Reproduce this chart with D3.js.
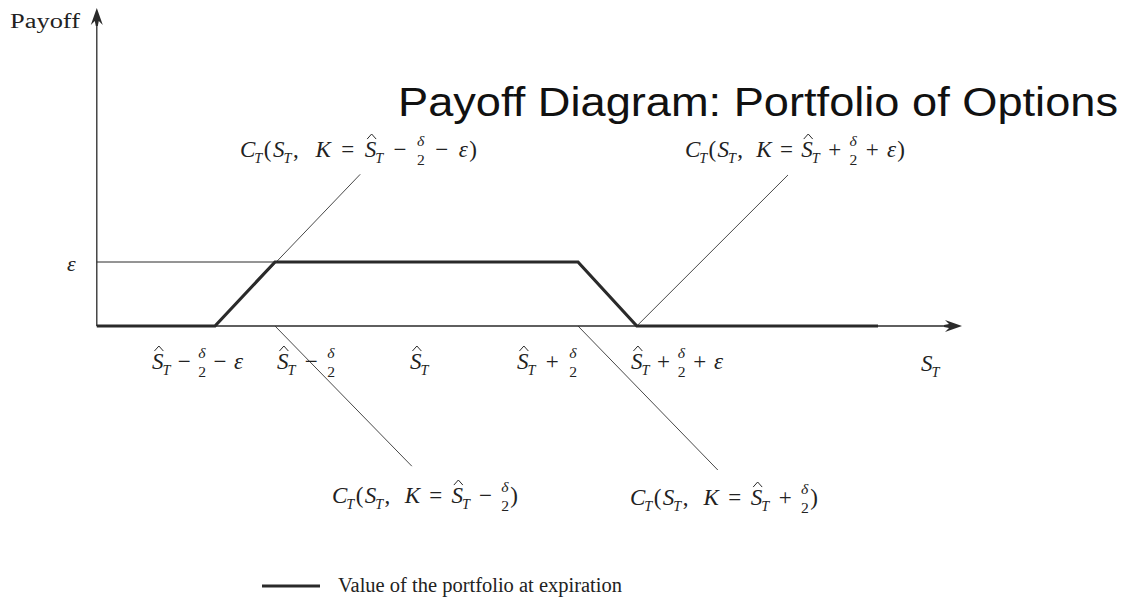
<!DOCTYPE html>
<html>
<head>
<meta charset="utf-8">
<script src="https://cdn.jsdelivr.net/npm/d3@7"></script>
<style>
  body { margin: 0; background: #fff; }
  text { font-family: "Liberation Serif", "Times New Roman", serif; fill: #222; }
</style>
</head>
<body>
<svg id="chart"></svg>
<script>
const width = 1130, height = 601;

// strike levels in units of epsilon, S-hat at 0
const strikes = [-3.5, -2.5, 0, 2.55, 3.53];
// portfolio value at expiration (thick line)
const payoffX = [-5.47, -3.5, -2.5, 2.55, 3.53, 7.55];
const payoffY = [0, 0, 1, 1, 0, 0];
// leader lines: [x0, y0, x1, y1] in data units
const leaders = [
  [-3.5, 0, -1.08, 2.37],
  [3.53, 0, 6.05, 2.36],
  [-2.5, 0, -0.22, -2.19],
  [2.55, 0, 4.88, -2.25]
];
// math tokens: H = S-hat_T, S = S_T, C = C_T, F = delta/2, e = epsilon
const tickLabels = [
  ['H', '-', 'F', '-', 'e'],
  ['H', '-', 'F'],
  ['H'],
  ['H', '+', 'F'],
  ['H', '+', 'F', '+', 'e']
];
const callLabels = [
  ['C', '(', 'S', ',', 'K', '=', 'H', '-', 'F', '-', 'e', ')'],
  ['C', '(', 'S', ',', 'K', '=', 'H', '+', 'F', '+', 'e', ')'],
  ['C', '(', 'S', ',', 'K', '=', 'H', '-', 'F', ')'],
  ['C', '(', 'S', ',', 'K', '=', 'H', '+', 'F', ')']
];

const x = d3.scaleLinear().domain([-5.5, 9]).range([95, 965]);
const y = d3.scaleLinear().domain([0, 1]).range([326, 262]);

const svg = d3.select('#chart')
  .attr('width', width)
  .attr('height', height)
  .attr('viewBox', [0, 0, width, height]);

const ink = '#2a2a2a';

// arrow heads
function arrow(px, py, angle) {
  svg.append('path')
    .attr('d', 'M0,0 L-17,-6 L-13,-2 L-18,-1 L-18,1 L-13,2 L-17,6 Z')
    .attr('transform', `translate(${px},${py}) rotate(${angle})`)
    .attr('fill', ink);
}

/** AXES **/
svg.append('line')
  .attr('x1', x(-5.47)).attr('x2', x(8.9))
  .attr('y1', y(0)).attr('y2', y(0))
  .attr('stroke', ink).attr('stroke-width', 1.3);
arrow(x(8.95), y(0), 0);

svg.append('line')
  .attr('x1', x(-5.47)).attr('x2', x(-5.47))
  .attr('y1', y(0)).attr('y2', y(4.85))
  .attr('stroke', ink).attr('stroke-width', 1.3);
arrow(x(-5.47), y(4.97), -90);

// epsilon level
svg.append('line')
  .attr('x1', x(-5.47)).attr('x2', x(strikes[1]))
  .attr('y1', y(1)).attr('y2', y(1))
  .attr('stroke', ink).attr('stroke-width', 1);

// leader lines
svg.append('g').selectAll('line')
  .data(leaders)
  .join('line')
  .attr('x1', d => x(d[0])).attr('y1', d => y(d[1]))
  .attr('x2', d => x(d[2])).attr('y2', d => y(d[3]))
  .attr('stroke', '#333').attr('stroke-width', 0.9);

// portfolio payoff
svg.append('path')
  .datum(d3.zip(payoffX, payoffY))
  .attr('d', d3.line().x(d => x(d[0])).y(d => y(d[1])))
  .attr('fill', 'none')
  .attr('stroke', ink)
  .attr('stroke-width', 3.2)
  .attr('stroke-linejoin', 'miter');

/** MATH LABELS **/
// each token is drawn in its own group, then the groups are spread to fill the target width
function gapWeight(prev, next) {
  if (prev === 'C' || prev === '(' || next === ')' || next === ',') return 0.15;
  if (prev === ',') return 1.6;
  return 1;
}

function mathLabel(x0, y0, tokens, fs, targetW) {
  const g = svg.append('g').attr('transform', `translate(0,${y0})`);
  const sub = fs * 0.62;
  const put = (grp, str, px, py, size, italic) => {
    const t = grp.append('text')
      .attr('x', px).attr('y', py)
      .attr('font-size', size)
      .attr('font-style', italic ? 'italic' : 'normal')
      .text(str);
    return t.node().getComputedTextLength();
  };
  const parts = tokens.map(tok => {
    const grp = g.append('g');
    let w = 0;
    if (tok === 'H' || tok === 'S' || tok === 'C') {
      const letter = tok === 'C' ? 'C' : 'S';
      const lw = put(grp, letter, 0, 0, fs, true);
      if (tok === 'H') {
        const hx = lw * 0.6;
        grp.append('path')
          .attr('d', `M${hx - 4.5},${-fs * 0.78} L${hx},${-fs * 1.0} L${hx + 4.5},${-fs * 0.78}`)
          .attr('fill', 'none').attr('stroke', ink).attr('stroke-width', 1);
      }
      w = lw - 1 + put(grp, 'T', lw - 1, fs * 0.25, sub, true);
    } else if (tok === 'F') {
      const fsz = fs * 0.68;
      const w1 = put(grp, 'δ', 0, -fs * 0.48, fsz, true);
      const w2 = put(grp, '2', 0, fs * 0.36, fsz, false);
      w = Math.max(w1, w2);
    } else if (tok === 'e') {
      w = put(grp, 'ε', 0, 0, fs, true);
    } else if (tok === 'K') {
      w = put(grp, 'K', 0, 0, fs, true);
    } else {
      const s = tok === '-' ? '−' : tok;
      w = put(grp, s, 0, 0, fs, false);
    }
    return { tok, grp, w };
  });
  const natural = d3.sum(parts, p => p.w);
  const weights = parts.slice(1).map((p, i) => gapWeight(parts[i].tok, p.tok));
  const unit = weights.length ? Math.max(0, (targetW - natural) / d3.sum(weights)) : 0;
  let cx = x0;
  parts.forEach((p, i) => {
    p.grp.attr('transform', `translate(${cx},0)`);
    cx += p.w + (i < weights.length ? weights[i] * unit : 0);
  });
  return g;
}

const fsMath = 23;
const tickLabelBox = [[152, 91], [277, 58], [410, 30], [517, 60], [631, 92]];
tickLabels.forEach((t, i) => mathLabel(tickLabelBox[i][0], 369, t, fsMath, tickLabelBox[i][1]));
mathLabel(921, 371, ['S'], fsMath, 0);

const callLabelBox = [[240, 157, 237], [685, 157, 220], [332, 503, 186], [630, 505, 188]];
callLabels.forEach((t, i) => mathLabel(callLabelBox[i][0], callLabelBox[i][1], t, fsMath, callLabelBox[i][2]));

// epsilon on y axis
svg.append('text')
  .attr('x', 67).attr('y', 271)
  .attr('font-size', 22).attr('font-style', 'italic')
  .text('ε');

// y axis title
svg.append('text')
  .attr('x', 10).attr('y', 28)
  .attr('font-size', 20)
  .attr('textLength', 70)
  .attr('lengthAdjust', 'spacingAndGlyphs')
  .text('Payoff');

// chart title
svg.append('text')
  .attr('x', 398).attr('y', 116)
  .attr('font-size', 40)
  .attr('textLength', 720)
  .attr('lengthAdjust', 'spacingAndGlyphs')
  .style('font-family', '"Liberation Sans", Arial, sans-serif')
  .style('fill', '#111')
  .text('Payoff Diagram: Portfolio of Options');

/** LEGEND **/
svg.append('line')
  .attr('x1', 262).attr('x2', 320)
  .attr('y1', 586).attr('y2', 586)
  .attr('stroke', ink).attr('stroke-width', 3);
svg.append('text')
  .attr('x', 338).attr('y', 592)
  .attr('font-size', 20)
  .attr('textLength', 284)
  .attr('lengthAdjust', 'spacingAndGlyphs')
  .text('Value of the portfolio at expiration');
</script>
</body>
</html>
